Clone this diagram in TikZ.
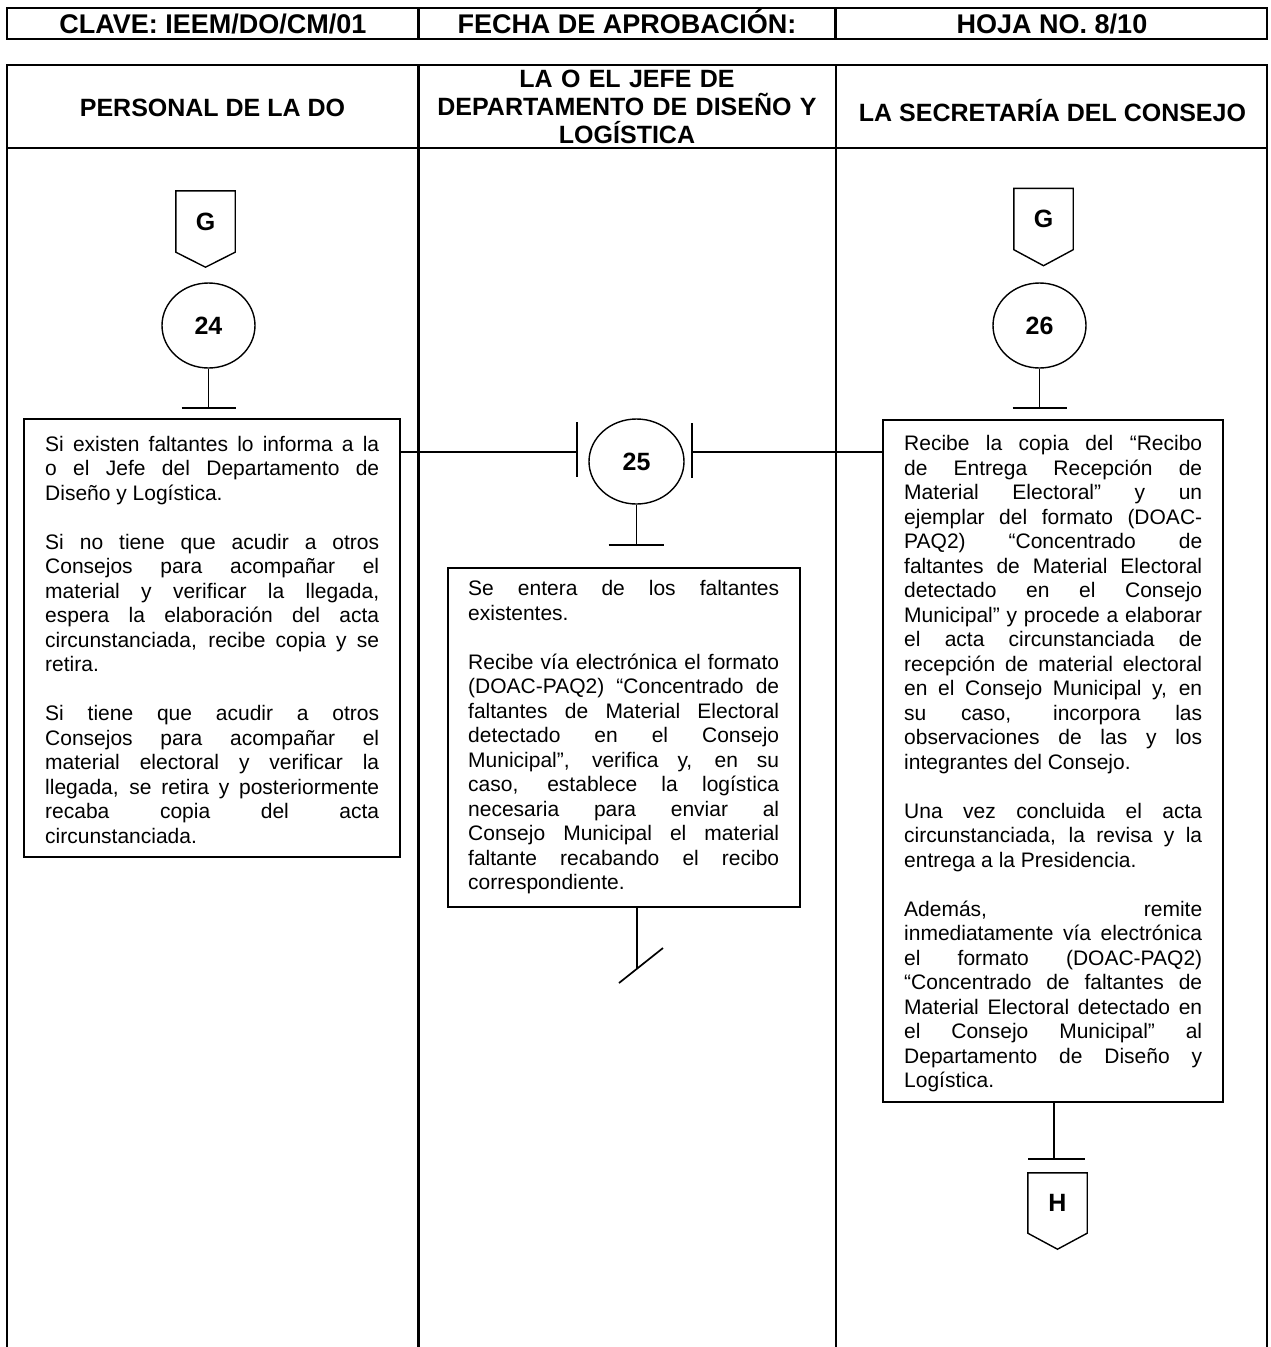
\documentclass[tikz,border=0pt]{standalone}
\usepackage{fontspec}
\setmainfont{Liberation Sans}
\usetikzlibrary{shapes.geometric,calc}
\newcommand\bdyfnt{\fontsize{21}{24.5}\selectfont\hyphenpenalty=10000\exhyphenpenalty=10000\tolerance=10000}
\newcommand\lblfnt{\fontsize{25}{29}\selectfont\bfseries}
\newcommand\hdrfnt{\fontsize{25}{28}\selectfont\bfseries}
\newcommand\topfnt{\fontsize{27}{31}\selectfont\bfseries}
\newcommand\pgap{\par\vspace{24.5pt}}
\begin{document}
\begin{tikzpicture}[x=1pt,y=-1pt,
  tbl/.style={line width=2.7pt},
  conn/.style={line width=1.7pt},
  box/.style={draw,line width=1.7pt,inner sep=0pt},
  txt/.style={inner sep=0pt,anchor=north west,align=justify,font=\bdyfnt},
  num/.style={draw,ellipse,line width=1.4pt,inner sep=0pt,minimum height=85pt,font=\lblfnt},
  offp/.style={inner sep=0pt,minimum width=59pt,minimum height=61pt,font=\lblfnt},
  pent/.style={line width=1.4pt,line join=miter},
  hd/.style={inner sep=0pt,anchor=base,font=\hdrfnt},
  topt/.style={inner sep=0pt,anchor=base,font=\topfnt}]
\fill[white] (0,0) rectangle (1270,1347);
\useasboundingbox (0,0) rectangle (1270,1347);

% ---------- top identification row ----------
\draw[tbl] (7,8) rectangle (1267,39);
\draw[tbl] (418.5,8) -- (418.5,39) (835.5,8) -- (835.5,39);
\node[topt] (k1) at (213,33) {CLAVE: IEEM/DO/CM/01};
\node[topt] (k2) at (627,33) {FECHA DE APROBACIÓN:};
\node[topt] (k3) at (1052,33) {HOJA NO. 8/10};

% ---------- swimlane table ----------
\draw[tbl] (7,1350) -- (7,65) -- (1267,65) -- (1267,1350);
\draw[tbl] (7,148) -- (1267,148);
\draw[tbl] (418.5,65) -- (418.5,1350) (836,65) -- (836,1350);
\node[hd] (h1) at (212.5,116) {PERSONAL DE LA DO};
\node[font=\hdrfnt,inner sep=0pt,anchor=north,text width=410pt,align=center] (h2) at (627,67)
  {\rule{0pt}{20pt}LA O EL JEFE DE\\DEPARTAMENTO DE DISEÑO Y\\LOGÍSTICA};
\node[hd] (h3) at (1052.5,121) {LA SECRETARÍA DEL CONSEJO};

% ---------- lane 1 ----------
\node[offp] (gL) at (205.5,221.5) {G};
\draw[pent] (gL.north west) -- (gL.north east) -- (gL.south east) -- ($(gL.south)+(0,15)$) -- (gL.south west) -- cycle;
\node[num,minimum width=93pt] (c24) at (208.5,325.5) {24};
\coordinate (b24) at (208.5,408);
\draw[conn] (c24.south) -- (b24);
\draw[conn] ($(b24)+(-27,0)$) -- ($(b24)+(27,0)$);

\node[box,minimum width=376pt,minimum height=438pt] (box1) at (212,638) {};
\node[txt,text width=334pt] (t1) at (45,434) {\rule{0pt}{17pt}Si existen faltantes lo informa a la\linebreak
o el Jefe del Departamento de\linebreak
Diseño y Logística.\pgap
Si no tiene que acudir a otros\linebreak
Consejos para acompañar el\linebreak
material y verificar la llegada,\linebreak
espera la elaboración del acta\linebreak
circunstanciada, recibe copia y se\linebreak
retira.\pgap
Si tiene que acudir a otros\linebreak
Consejos para acompañar el\linebreak
material electoral y verificar la\linebreak
llegada, se retira y posteriormente\linebreak
recaba copia del acta\linebreak
circunstanciada.};

% ---------- lane 2 ----------
\node[num,minimum width=95pt] (c25) at (636.5,461.5) {25};
\coordinate (l25) at (577,452);
\coordinate (r25) at (692,452);
\draw[conn] (box1.east |- l25) -- (l25);
\draw[conn] ($(l25)+(0,-30)$) -- ($(l25)+(0,25)$);
\draw[conn] ($(r25)+(0,-29)$) -- ($(r25)+(0,26)$);
\coordinate (b25) at (636.5,545);
\draw[conn] (c25.south) -- (b25);
\draw[conn] ($(b25)+(-28,0)$) -- ($(b25)+(27,0)$);

\node[box,minimum width=352pt,minimum height=339pt] (box2) at (624,737.5) {};
\node[txt,text width=311pt] (t2) at (468,578.5) {\rule{0pt}{17pt}Se entera de los faltantes\linebreak
existentes.\pgap
Recibe vía electrónica el formato\linebreak
(DOAC-PAQ2) “Concentrado de\linebreak
faltantes de Material Electoral\linebreak
detectado en el Consejo\linebreak
Municipal”, verifica y, en su\linebreak
caso, establece la logística\linebreak
necesaria para enviar al\linebreak
Consejo Municipal el material\linebreak
faltante recabando el recibo\linebreak
correspondiente.};
\coordinate (e2) at (637,968);
\draw[conn] (box2.south -| e2) -- (e2);
\draw[conn] ($(e2)+(-18,15)$) -- ($(e2)+(26,-20)$);

% ---------- lane 3 ----------
\node[offp] (gR) at (1043.5,219) {G};
\draw[pent] (gR.north west) -- (gR.north east) -- (gR.south east) -- ($(gR.south)+(0,16)$) -- (gR.south west) -- cycle;
\node[num,minimum width=93pt] (c26) at (1039.5,325.5) {26};
\coordinate (b26) at (1039.5,408);
\draw[conn] (c26.south) -- (b26);
\draw[conn] ($(b26)+(-27,0)$) -- ($(b26)+(27,0)$);

\node[box,minimum width=340pt,minimum height=682pt] (box3) at (1053,761) {};
\draw[conn] (r25) -- (box3.west |- r25);
\node[txt,text width=298pt] (t3) at (904,433.5) {\rule{0pt}{17pt}Recibe la copia del “Recibo\linebreak
de Entrega Recepción de\linebreak
Material Electoral” y un\linebreak
ejemplar del formato (DOAC-\linebreak
PAQ2) “Concentrado de\linebreak
faltantes de Material Electoral\linebreak
detectado en el Consejo\linebreak
Municipal” y procede a elaborar\linebreak
el acta circunstanciada de\linebreak
recepción de material electoral\linebreak
en el Consejo Municipal y, en\linebreak
su caso, incorpora las\linebreak
observaciones de las y los\linebreak
integrantes del Consejo.\pgap
Una vez concluida el acta\linebreak
circunstanciada, la revisa y la\linebreak
entrega a la Presidencia.\pgap
Además, remite\linebreak
inmediatamente vía electrónica\linebreak
el formato (DOAC-PAQ2)\linebreak
“Concentrado de faltantes de\linebreak
Material Electoral detectado en\linebreak
el Consejo Municipal” al\linebreak
Departamento de Diseño y\linebreak
Logística.};

\coordinate (b27) at (1054,1159);
\draw[conn] (box3.south -| b27) -- (b27);
\draw[conn] ($(b27)+(-26,0)$) -- ($(b27)+(31,0)$);
\node[offp,minimum height=60pt] (hR) at (1057.5,1203) {H};
\draw[pent] (hR.north west) -- (hR.north east) -- (hR.south east) -- ($(hR.south)+(0,16)$) -- (hR.south west) -- cycle;
\end{tikzpicture}
\end{document}
